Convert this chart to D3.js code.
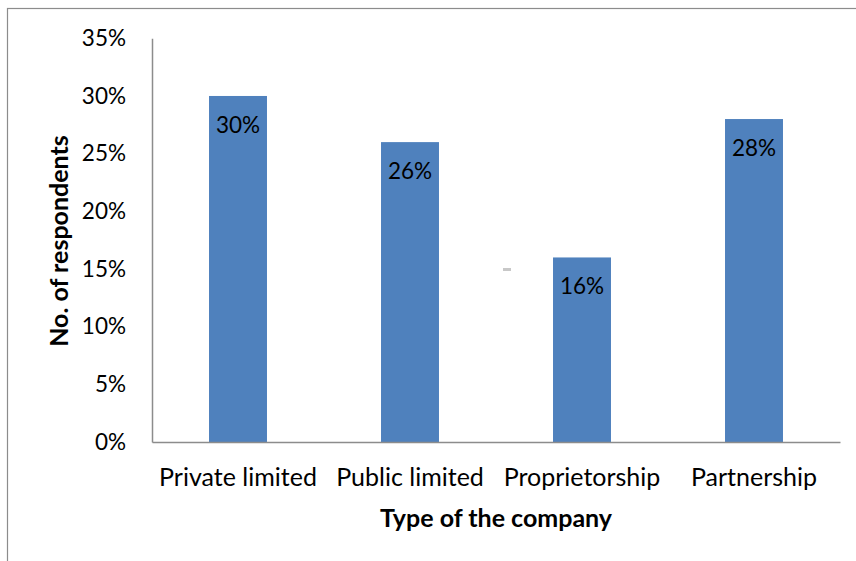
<!DOCTYPE html>
<html>
<head>
<meta charset="utf-8">
<script src="https://cdn.jsdelivr.net/npm/d3@7"></script>
<style>
  html, body { margin: 0; padding: 0; background: #fff; }
  svg { display: block; }
  text { font-family: Lato, "Open Sans", sans-serif; fill: #000; }
</style>
</head>
<body>
<svg id="chart" width="856" height="561"></svg>
<script>
// Company types and share of respondents
const categories = ["Private limited", "Public limited", "Proprietorship", "Partnership"];
const shares = [0.30, 0.26, 0.16, 0.28];
const yTicks = [0, 0.05, 0.10, 0.15, 0.20, 0.25, 0.30, 0.35];

const svg = d3.select("#chart");
const W = 856, H = 561;

// outer chart frame (only top and left edges fall inside the view)
svg.append("rect")
  .attr("x", 7.5).attr("y", 8.5)
  .attr("width", W + 10).attr("height", H + 10)
  .attr("fill", "none").attr("stroke", "#8c8c8c").attr("stroke-width", 1.2);

const x = d3.scaleBand()
  .domain(categories)
  .range([152, 840])
  .paddingInner(0.663)
  .paddingOuter(0.3315);

const y = d3.scaleLinear()
  .domain([0, 0.35])
  .range([442, 38.3]);

// bars
svg.append("g").selectAll("rect")
  .data(categories)
  .join("rect")
  .attr("x", d => x(d))
  .attr("y", (d, i) => y(shares[i]))
  .attr("width", x.bandwidth())
  .attr("height", (d, i) => y(0) - y(shares[i]))
  .attr("fill", "#4f81bd");

// value labels inside bar tops
svg.append("g").selectAll("text")
  .data(categories)
  .join("text")
  .attr("x", d => x(d) + x.bandwidth() / 2)
  .attr("y", (d, i) => y(shares[i]) + 37)
  .attr("text-anchor", "middle")
  .style("font-size", "22.5px")
  .text((d, i) => d3.format(".0%")(shares[i]));

// y axis
const yAxis = d3.axisLeft(y)
  .tickValues(yTicks)
  .tickFormat(d3.format(".0%"))
  .tickSize(0)
  .tickPadding(26);
const gy = svg.append("g").attr("transform", "translate(152,0)").call(yAxis);
gy.select(".domain").attr("stroke", "#8c8c8c").attr("stroke-width", 1.5);
gy.selectAll("text").style("font-size", "22.5px").attr("font-family", null);

// x axis
const xAxis = d3.axisBottom(x).tickSize(0).tickPadding(26);
const gx = svg.append("g").attr("transform", "translate(0,442)").call(xAxis);
gx.select(".domain").attr("stroke", "#8c8c8c").attr("stroke-width", 1.5);
gx.selectAll("text").style("font-size", "25px").attr("font-family", null);

// axis titles
svg.append("text")
  .attr("x", 496).attr("y", 527)
  .attr("text-anchor", "middle")
  .style("font-size", "25px").style("font-weight", "bold")
  .text("Type of the company");

svg.append("text")
  .attr("transform", "translate(68,241) rotate(-90)")
  .attr("text-anchor", "middle")
  .style("font-size", "25px").style("font-weight", "bold")
  .text("No. of respondents");

// small grey speck in the plot area
svg.append("rect")
  .attr("x", 503).attr("y", 268).attr("width", 8).attr("height", 3)
  .attr("fill", "#c8c8c8");
</script>
</body>
</html>
